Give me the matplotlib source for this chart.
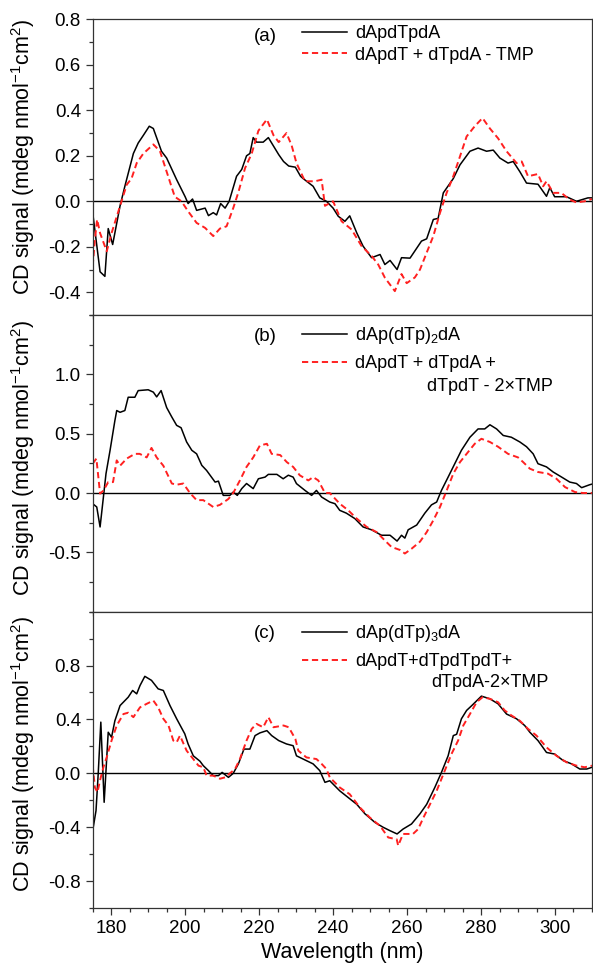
import matplotlib
matplotlib.use("Agg")
import matplotlib.pyplot as plt
from matplotlib.ticker import MultipleLocator
import numpy as np

plt.rcParams['font.family'] = ['Liberation Sans', 'DejaVu Sans']
plt.rcParams['mathtext.fontset'] = 'custom'
plt.rcParams['mathtext.rm'] = 'Liberation Sans'
plt.rcParams['mathtext.it'] = 'Liberation Sans:italic'
plt.rcParams['axes.unicode_minus'] = False

# (a) dApdTpdA vs. sum of dimers
wl_a_tri = [175, 177, 178.3, 179.2, 180.4, 182.4, 183.7, 186, 187.3, 188.7, 190.3, 191.4, 193.6, 195, 197.7, 200,
            200.8, 202, 203.1, 205.4, 206.3, 207.6, 208.5, 209.6, 210.8, 211.9, 213.9, 215.3, 216.6, 217.5, 218.4,
            219.3, 221.1, 222.5, 225.3, 226.6, 228, 229.8, 231.2, 231.9, 234.6, 236.4, 238.2, 240, 241.4, 243.2,
            244.5, 246.4, 248.1, 250.4, 252.7, 254, 255.4, 257.3, 258.5, 260.8, 263.9, 265.3, 267.1, 268.4, 269.8,
            272.5, 274.3, 277, 279.2, 281.5, 283.3, 285.1, 287.3, 288.7, 290.5, 292.3, 295.4, 297.7, 298.6, 299.9,
            303.1, 305.8, 308.9, 310]
cd_a_tri = [-0.05, -0.31, -0.33, -0.12, -0.19, -0.02, 0.066, 0.21, 0.256, 0.29, 0.33, 0.32, 0.22, 0.19, 0.095, 0.02,
            -0.01, 0.01, -0.04, -0.03, -0.063, -0.05, -0.06, -0.01, -0.03, 0.0, 0.11, 0.14, 0.20, 0.21, 0.28,
            0.26, 0.26, 0.28, 0.205, 0.175, 0.155, 0.15, 0.11, 0.10, 0.066, 0.015, 0.0, -0.03, -0.066, -0.088,
            -0.064, -0.139, -0.197, -0.248, -0.234, -0.278, -0.26, -0.30, -0.248, -0.25, -0.175, -0.165, -0.08,
            -0.075, 0.037, 0.10, 0.16, 0.22, 0.234, 0.22, 0.225, 0.19, 0.168, 0.175, 0.13, 0.08, 0.075, 0.022,
            0.06, 0.02, 0.02, 0.0, 0.015, 0.015]
wl_a_sum = [175, 175.6, 176.2, 177, 177.9, 178.8, 180.1, 182.8, 184.2, 185.5, 186.9, 188.7, 191.4, 193.2, 195, 197.2,
            199, 200.8, 203.1, 205.4, 207.6, 209.4, 211.2, 213, 214.4, 216.2, 218, 219.8, 222.1, 223.9, 225.3,
            227.4, 228.8, 230.1, 232.4, 235.1, 236.9, 237.8, 240, 242.3, 245, 247.7, 250.4, 252.2, 254, 256.7,
            258.5, 259.9, 262.1, 263.5, 265.3, 267.1, 268.9, 270.7, 272.5, 274.3, 276.1, 278.3, 280.4, 282.4,
            284.6, 286.9, 289.6, 291, 292.7, 295.4, 296.8, 297.7, 299.5, 301.7, 304, 305.8, 308, 310]
cd_a_sum = [-0.285, -0.168, -0.08, -0.14, -0.18, -0.22, -0.14, 0.0, 0.073, 0.10, 0.168, 0.21, 0.25, 0.22, 0.13, 0.02,
            0.0, -0.044, -0.095, -0.117, -0.153, -0.12, -0.11, -0.03, 0.04, 0.146, 0.21, 0.31, 0.36, 0.29, 0.26,
            0.30, 0.245, 0.168, 0.088, 0.088, 0.095, -0.02, 0.0, -0.088, -0.124, -0.197, -0.24, -0.278, -0.336,
            -0.395, -0.32, -0.36, -0.335, -0.3, -0.226, -0.153, -0.051, 0.037, 0.11, 0.197, 0.285, 0.33, 0.366,
            0.32, 0.277, 0.22, 0.168, 0.175, 0.11, 0.12, 0.066, 0.088, 0.037, 0.037, 0.007, -0.005, 0.0, 0.01]

# (b) dAp(dTp)2dA vs. sum of dimers
wl_b_tetra = [175, 176.1, 177, 177.9, 178.6, 179.7, 181, 181.5, 182.4, 183.7, 184.6, 186.4, 187.3, 190, 191.4, 192.3,
              193.5, 195, 196.4, 197.7, 198.9, 200.4, 201.8, 203.1, 204.5, 205.8, 208.1, 209, 210.3, 212.1, 213,
              214.1, 215.3, 216.6, 218.4, 219.8, 221.6, 222.5, 224.8, 226.5, 227.9, 229.2, 230.1, 232.4, 234.2,
              235.5, 236.9, 239.1, 240.5, 241.8, 243.6, 245.9, 248.1, 250.4, 253.1, 255.4, 257.3, 258.5, 259.4,
              260.3, 262.6, 264.8, 266.6, 268, 269.3, 271.1, 272.9, 274.7, 277, 279.2, 281, 282.4, 284.2, 286,
              288.2, 290.5, 292.3, 294.1, 295.4, 297.7, 299.5, 301.8, 304, 305.8, 307.2, 309.4, 310]
cd_b_tetra = [-0.09, -0.118, -0.286, -0.034, 0.163, 0.36, 0.61, 0.695, 0.68, 0.695, 0.807, 0.807, 0.863, 0.87, 0.85,
              0.81, 0.863, 0.72, 0.64, 0.57, 0.55, 0.43, 0.36, 0.33, 0.233, 0.19, 0.092, 0.1, -0.02, -0.02, 0.008,
              -0.02, 0.037, 0.08, 0.037, 0.12, 0.134, 0.157, 0.157, 0.12, 0.15, 0.134, 0.079, 0.022, -0.02, 0.022,
              -0.034, -0.076, -0.09, -0.146, -0.17, -0.216, -0.286, -0.31, -0.356, -0.356, -0.405, -0.356, -0.38,
              -0.31, -0.27, -0.17, -0.1, -0.076, 0.022, 0.134, 0.247, 0.36, 0.47, 0.54, 0.54, 0.575, 0.54, 0.485,
              0.47, 0.43, 0.39, 0.33, 0.247, 0.22, 0.177, 0.134, 0.092, 0.08, 0.045, 0.07, 0.075]
wl_b_sum = [175, 176, 177, 177.9, 179.2, 180.5, 181.5, 182.4, 184.2, 186.4, 187.7, 189.6, 190.9, 192.3, 194.1, 196.4,
            197.7, 199.5, 201.3, 203.1, 204.9, 207.6, 209.4, 211.7, 213, 214.8, 216.6, 218.4, 220.2, 222.1, 223.4,
            225.7, 227.5, 229.2, 231, 233.3, 234.6, 236, 237.8, 239.1, 241.8, 244.1, 246.4, 249.1, 251.8, 254,
            255.8, 258.1, 259.4, 261.2, 263.5, 265.3, 267.1, 268.9, 270.7, 272.5, 274.3, 276.1, 278.3, 280.1,
            282.4, 284.6, 287.3, 290, 291.4, 293.2, 295.4, 298.1, 300.4, 302.7, 305.4, 307.6, 310]
cd_b_sum = [0.247, 0.29, -0.005, 0.02, 0.092, 0.092, 0.275, 0.23, 0.29, 0.33, 0.33, 0.3, 0.38, 0.3, 0.23, 0.08,
            0.07, 0.08, 0.0, -0.06, -0.06, -0.118, -0.1, -0.05, 0.0, 0.106, 0.22, 0.3, 0.4, 0.415, 0.33,
            0.32, 0.26, 0.22, 0.149, 0.106, 0.134, 0.106, 0.0, 0.0, -0.09, -0.146, -0.216, -0.286, -0.33, -0.4,
            -0.455, -0.48, -0.51, -0.47, -0.41, -0.33, -0.23, -0.118, 0.02, 0.163, 0.26, 0.33, 0.415, 0.457,
            0.43, 0.39, 0.33, 0.3, 0.26, 0.205, 0.177, 0.163, 0.12, 0.05, 0.008, 0.0, 0.0]

# (c) dAp(dTp)3dA vs. sum of fragments
wl_c_penta = [175, 175.9, 176.5, 177.2, 178.1, 179.2, 180.1, 181, 182.4, 184.6, 185.8, 186.9, 187.8, 189.1, 190.9,
              192.7, 194.1, 195.9, 197.7, 199.9, 200.8, 202.2, 204, 204.9, 206.3, 207.6, 209, 210, 211.7, 213,
              214.4, 215.9, 217.5, 218.9, 220.2, 222.1, 223.4, 225.3, 227.4, 229.2, 230.1, 231.9, 234.6, 236.4,
              237.8, 239.1, 241.8, 244.1, 246.4, 248.6, 251.3, 253.5, 255.4, 257.3, 258.9, 261.2, 263.5, 265.3,
              267.5, 269.3, 271.1, 272.5, 273.4, 274.7, 276.1, 277.5, 280.1, 282.4, 284.6, 286.9, 289.6, 291.8,
              293.2, 295.4, 297.7, 299.9, 302.2, 304.5, 306.7, 308.6, 310]
cd_c_penta = [-0.426, -0.277, 0.0, 0.38, -0.215, 0.305, 0.268, 0.39, 0.503, 0.565, 0.615, 0.59, 0.652, 0.72, 0.69,
              0.627, 0.615, 0.503, 0.405, 0.293, 0.218, 0.13, 0.09, 0.057, 0.02, -0.017, -0.017, 0.007, -0.03, 0.0,
              0.07, 0.18, 0.18, 0.28, 0.3, 0.317, 0.28, 0.243, 0.218, 0.205, 0.13, 0.106, 0.07, 0.02,
              -0.067, -0.055, -0.13, -0.18, -0.23, -0.3, -0.364, -0.4, -0.426, -0.45, -0.414, -0.376, -0.3, -0.23,
              -0.105, 0.007, 0.13, 0.28, 0.29, 0.405, 0.467, 0.503, 0.573, 0.553, 0.516, 0.44, 0.405, 0.355,
              0.305, 0.243, 0.155, 0.143, 0.095, 0.07, 0.032, 0.032, 0.045]
wl_c_sum = [175, 175.6, 176.3, 177, 177.9, 178.8, 180.1, 181.5, 183.3, 184.6, 186, 187.8, 189.6, 191.4, 192.7, 194.1,
            195.5, 196.8, 197.7, 198.6, 200.4, 202.2, 203.6, 204.9, 205.8, 207.6, 209.4, 210.8, 212.1, 213.5,
            214.8, 216.6, 218, 219.3, 221.1, 222.5, 223.9, 226.6, 228, 229.8, 230.6, 232.8, 235.5, 236.9, 238.2,
            239.1, 241.8, 244.5, 247.3, 250, 252.7, 254.9, 257.2, 257.6, 258.9, 261.6, 263, 264.4, 266.2, 268,
            270.2, 272, 273.8, 275.2, 277, 278.8, 280.4, 282.4, 284.6, 286.4, 288.2, 290.5, 292.7, 295, 297.7,
            300.4, 303.1, 305.8, 308, 310]
cd_c_sum = [0.057, -0.105, -0.14, -0.05, 0.045, 0.12, 0.243, 0.355, 0.44, 0.45, 0.417, 0.49, 0.516, 0.54, 0.49, 0.405,
            0.355, 0.243, 0.23, 0.28, 0.168, 0.106, 0.057, 0.045, -0.017, -0.017, -0.04, -0.03, 0.0, 0.032,
            0.106, 0.243, 0.33, 0.367, 0.342, 0.417, 0.342, 0.355, 0.342, 0.255, 0.168, 0.118, 0.106, 0.07, 0.032,
            -0.03, -0.105, -0.155, -0.255, -0.33, -0.39, -0.476, -0.49, -0.537, -0.45, -0.45, -0.414, -0.33, -0.23,
            -0.13, 0.02, 0.143, 0.243, 0.355, 0.44, 0.528, 0.565, 0.553, 0.528, 0.467, 0.43, 0.39, 0.33, 0.28,
            0.193, 0.13, 0.082, 0.057, 0.045, 0.057]

yticks_a = [-0.4, -0.2, 0.0, 0.2, 0.4, 0.6, 0.8]
yticks_b = [-0.5, 0.0, 0.5, 1.0]
yticks_c = [-0.8, -0.4, 0.0, 0.4, 0.8]

panels = [
    dict(tag='(a)', wl1=wl_a_tri, cd1=cd_a_tri, wl2=wl_a_sum, cd2=cd_a_sum,
         lab1='dApdTpdA', lab2='dApdT + dTpdA - TMP', extra=None,
         ylim=(-0.5, 0.8), yticks=yticks_a, minor=0.1),
    dict(tag='(b)', wl1=wl_b_tetra, cd1=cd_b_tetra, wl2=wl_b_sum, cd2=cd_b_sum,
         lab1=r'dAp(dTp)$_2$dA', lab2='dApdT + dTpdA +', extra='dTpdT - 2×TMP',
         ylim=(-1.0, 1.5), yticks=yticks_b, minor=0.25),
    dict(tag='(c)', wl1=wl_c_penta, cd1=cd_c_penta, wl2=wl_c_sum, cd2=cd_c_sum,
         lab1=r'dAp(dTp)$_3$dA', lab2='dApdT+dTpdTpdT+', extra='dTpdA-2×TMP',
         ylim=(-1.0, 1.2), yticks=yticks_c, minor=0.2),
]

fig = plt.figure(figsize=(5.93, 9.66), dpi=100)
left, width = 0.1563, 0.842
bottoms = [0.6739, 0.3668, 0.060]
heights = [0.3061, 0.3071, 0.3068]
label_y = [0.535, 0.52, 0.52]
leg_y = [1.005, 0.99, 0.985]
tag_y = [0.97, 0.955, 0.955]
extra_y = [None, 0.76, 0.762]
extra_x = [None, 0.669, 0.678]

for i, p in enumerate(panels):
    ax = fig.add_axes([left, bottoms[i], width, heights[i]])
    ax.axhline(0, color='black', lw=1.0)
    ax.plot(p['wl1'], p['cd1'], color='black', lw=1.1, label=p['lab1'])
    ax.plot(p['wl2'], p['cd2'], color='#ff2020', lw=1.4, dashes=(3.2, 1.9), label=p['lab2'])
    ax.set_xlim(175, 310)
    ax.set_ylim(*p['ylim'])
    ax.xaxis.set_major_locator(MultipleLocator(20))
    ax.xaxis.set_minor_locator(MultipleLocator(5))
    ax.set_yticks(p['yticks'])
    ax.set_yticklabels(['{:.1f}'.format(t) for t in p['yticks']])
    ax.yaxis.set_minor_locator(MultipleLocator(p['minor']))
    ax.tick_params(which='both', direction='out', labelsize=13.5, width=0.9, color='#333333')
    ax.tick_params(which='major', length=5)
    ax.tick_params(which='minor', length=3)
    if i < 2:
        ax.tick_params(axis='x', labelbottom=False)
    for s in ax.spines.values():
        s.set_linewidth(0.9)
        s.set_color('#333333')
    ax.set_ylabel(r'CD signal (mdeg nmol$^{-1}$cm$^{2}$)', fontsize=15.5)
    ax.yaxis.set_label_coords(-0.112, label_y[i])

    ax.text(0.345, tag_y[i], p['tag'], transform=ax.transAxes,
            fontsize=13.5, ha='center', va='top')
    ax.legend(loc='upper left', bbox_to_anchor=(0.405, leg_y[i]),
              frameon=False, fontsize=13, handlelength=2.5, handletextpad=0.45,
              labelspacing=0.25 if i == 0 else 0.5, borderaxespad=0.0)
    if p['extra']:
        ax.text(extra_x[i], extra_y[i], p['extra'], transform=ax.transAxes,
                fontsize=13, ha='left', va='center')

fig.axes[-1].set_xlabel('Wavelength (nm)', fontsize=15.5, labelpad=4)

fig.savefig('out.png', dpi=100)
